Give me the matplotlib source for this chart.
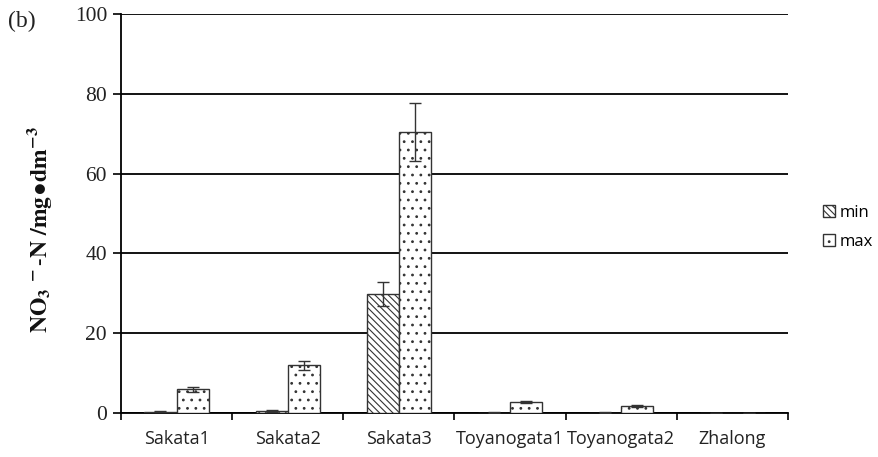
import numpy as np
import matplotlib.pyplot as plt

sites = ['Sakata1', 'Sakata2', 'Sakata3', 'Toyanogata1', 'Toyanogata2', 'Zhalong']
min_vals = [0.3, 0.5, 29.8, 0.1, 0.1, 0.05]
min_err = [0.1, 0.2, 3.0, 0.05, 0.05, 0.0]
max_vals = [5.9, 12.0, 70.4, 2.7, 1.8, 0.05]
max_err = [0.7, 1.1, 7.2, 0.3, 0.3, 0.0]

plt.rcParams['mathtext.fontset'] = 'stix'
plt.rcParams['mathtext.default'] = 'bf'
plt.rcParams['hatch.linewidth'] = 0.8

fig = plt.figure(figsize=(8.79, 4.57), dpi=100)
ax = fig.add_axes([121 / 879, 44 / 457, 667 / 879, 399 / 457])

x = np.arange(len(sites))
w = 0.29
ebar = dict(ecolor='#333333', elinewidth=1, capthick=1)
ax.bar(x - w / 2, min_vals, w, yerr=min_err, color='white', edgecolor='#333333',
       hatch='\\\\\\\\\\', lw=1.0, capsize=4, error_kw=ebar, label='min', zorder=3)
ax.bar(x + w / 2, max_vals, w, yerr=max_err, color='white', edgecolor='#333333',
       hatch='..', lw=1.0, capsize=4, error_kw=ebar, label='max', zorder=3)

ax.set_xlim(-0.5, len(sites) - 0.5)
ax.set_ylim(0, 100)
ax.set_yticks(range(0, 101, 20))
ax.yaxis.grid(True, color='black', lw=1.3, zorder=0)
ax.set_axisbelow(True)

ax.set_xticks(np.arange(-0.5, len(sites), 1))
ax.set_xticklabels([])
ax.set_xticks(x, minor=True)
ax.set_xticklabels(sites, minor=True, fontsize=13, family='Open Sans', color='#222222')
ax.tick_params(axis='x', which='minor', length=0, pad=12)
ax.tick_params(axis='x', which='major', length=5, width=1.2, direction='out')
ax.tick_params(axis='y', length=6, width=1.2, direction='out', pad=4)
for lbl in ax.get_yticklabels():
    lbl.set_family('Liberation Serif')
    lbl.set_fontsize(15.5)
    lbl.set_color('#222222')

for s in ['top', 'right']:
    ax.spines[s].set_visible(False)
ax.spines['left'].set_linewidth(1.3)
ax.spines['bottom'].set_linewidth(1.3)

ylabel = r'$\mathbf{NO_3}^{\ -}\mathbf{\text{-}N\ /mg}\!\bullet\!\mathbf{dm^{-3}}$'
fig.text(40 / 879, 1 - 230 / 457, ylabel,
         rotation=90, ha='center', va='center', fontsize=17, color='#111111')

fig.text(8 / 879, 1 - 21 / 457, '(b)', family='Liberation Serif', fontsize=17,
         va='center', ha='left', color='#222222')

ax.legend(loc='center left', bbox_to_anchor=(1.03, 0.465), frameon=False,
          prop={'family': 'Open Sans', 'size': 12}, handlelength=0.7,
          handleheight=0.7, handletextpad=0.3, labelspacing=0.8)

fig.savefig('out.png', dpi=100)
